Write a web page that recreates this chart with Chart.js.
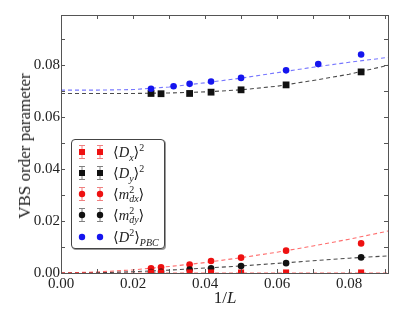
<!DOCTYPE html>
<html>
<head>
<meta charset="utf-8">
<script src="https://cdn.jsdelivr.net/npm/chart.js@4/dist/chart.umd.min.js"></script>
<style>
  body { margin: 0; background: #fff; }
  #wrap { position: relative; width: 409px; height: 315px; }
  .serif { font-family: "Liberation Serif", "DejaVu Serif", serif; color: #222; }
  #ytitle { position: absolute; left: 25px; top: 146px; transform: translate(-50%, -50%) rotate(-90deg); font-size: 17px; white-space: nowrap; }
  #xtitle { position: absolute; left: 225px; top: 298px; transform: translate(-50%, -50%); font-size: 17px; white-space: nowrap; }
  #legend { position: absolute; left: 71px; top: 139px; width: 92px; height: 108px; border: 1px solid #444; border-radius: 4px; background: #fff; box-shadow: 1px 1px 0 #999; }
  .row { position: absolute; left: 0; height: 20px; width: 92px; }
  .row svg { position: absolute; left: 0; top: 0; }
  .row span.t { position: absolute; left: 41px; top: 1px; font-size: 14.5px; white-space: nowrap; line-height: 18px; }
  sub, sup { font-size: 10px; line-height: 0; }
  .ss { display: inline-block; vertical-align: middle; line-height: 9px; font-size: 10px; text-align: left; margin-top: -4px; }
</style>
</head>
<body>
<div id="wrap">
  <canvas id="chart" width="409" height="315"></canvas>
  <div id="ytitle" class="serif">VBS order parameter</div>
  <div id="xtitle" class="serif">1/<i>L</i></div>
  <div id="legend" class="serif"></div>
</div>
<script>
// system sizes (x = 1/L)
let sizes = [40, 36, 28, 24, 20, 16, 12];
let sizesPBC = [40, 32, 28, 24, 20, 16, 14, 12];

// order parameters
let dx2 = [0.0002, 0.0002, 0.0002, 0.0002, 0.0002, 0.0002, 0.0002];
let dy2 = [0.0691, 0.0690, 0.0691, 0.0696, 0.0705, 0.0724, 0.0774];
let mdx2 = [0.0018, 0.0022, 0.0033, 0.0046, 0.0059, 0.0086, 0.0114];
let mdy2 = [0.0004, 0.0005, 0.0013, 0.0018, 0.0027, 0.0038, 0.0060];
let dPBC = [0.0709, 0.0719, 0.0728, 0.0737, 0.0751, 0.0780, 0.0804, 0.0841];

// dashed fit curves
let fitX = [0, 0.01, 0.02, 0.03, 0.04, 0.05, 0.06, 0.07, 0.08, 0.091];
let fitPBC = [0.0704, 0.0704, 0.0706, 0.0716, 0.0732, 0.0750, 0.0771, 0.0792, 0.0811, 0.0830];
let fitDy = [0.0691, 0.0691, 0.0691, 0.0693, 0.0697, 0.0705, 0.0719, 0.0741, 0.0765, 0.0800];
let fitMdx = [0, 0.0004, 0.0012, 0.0025, 0.0040, 0.0059, 0.0080, 0.0104, 0.0130, 0.0162];
let fitMdy = [0, 0.0001, 0.0005, 0.0011, 0.0019, 0.0027, 0.0037, 0.0047, 0.0057, 0.0066];
let fitDx = [0, 0, 0, 0, 0, 0, 0, 0, 0, 0];

let xTicks = ["0.00", "0.02", "0.04", "0.06", "0.08"];
let yTicks = ["0.00", "0.02", "0.04", "0.06", "0.08"];

const RED = "#ee1111";
const BLUE = "#1515ee";

function pts(xs, ys, inv) {
  return xs.map((v, i) => ({ x: inv ? 1 / v : v, y: ys[i] }));
}

function fit(data, color) {
  return {
    type: "line", data: data, borderColor: color, borderWidth: 1.1,
    borderDash: [4, 3], pointRadius: 0, fill: false, order: 2, clip: 0
  };
}
function marks(data, color, style, r) {
  return {
    type: "scatter", data: data, backgroundColor: color, borderColor: color,
    borderWidth: 0, pointStyle: style, pointRadius: r, order: 1, clip: 0
  };
}

function label(list) {
  return (v) => {
    let s = v.toFixed(2);
    return list.includes(s) ? s : "";
  };
}

let frame = {
  id: "frame",
  afterDraw(chart) {
    let ctx = chart.ctx, a = chart.chartArea;
    let xs = chart.scales.x, ys = chart.scales.y;
    ctx.save();
    ctx.strokeStyle = "#555";
    ctx.lineWidth = 1;
    ctx.strokeRect(a.left + 0.5, a.top + 0.5, a.right - a.left, a.bottom - a.top);
    ctx.beginPath();
    for (let i = 1; i <= 9; i++) {
      let px = Math.round(xs.getPixelForValue(i / 100)) + 0.5;
      ctx.moveTo(px, a.bottom); ctx.lineTo(px, a.bottom - 4);
      ctx.moveTo(px, a.top); ctx.lineTo(px, a.top + 4);
      let py = Math.round(ys.getPixelForValue(i / 100)) + 0.5;
      ctx.moveTo(a.left, py); ctx.lineTo(a.left + 4, py);
      ctx.moveTo(a.right, py); ctx.lineTo(a.right - 4, py);
    }
    ctx.stroke();
    ctx.restore();
  }
};

const tickFont = { family: "Liberation Serif", size: 15 };

new Chart(document.getElementById("chart"), {
  type: "scatter",
  data: {
    datasets: [
      fit(pts(fitX, fitPBC), "rgba(60,60,255,0.7)"),
      fit(pts(fitX, fitDy), "rgba(30,30,30,0.8)"),
      fit(pts(fitX, fitMdx), "rgba(255,60,60,0.75)"),
      fit(pts(fitX, fitMdy), "rgba(30,30,30,0.8)"),
      fit(pts(fitX, fitDx), "rgba(255,60,60,0.75)"),
      marks(pts(sizesPBC, dPBC, true), BLUE, "circle", 3.3),
      marks(pts(sizes, dy2, true), "#111", "rect", 4.8),
      marks(pts(sizes, dx2, true), RED, "rect", 4.3),
      marks(pts(sizes, mdy2, true), "#111", "circle", 3.3),
      marks(pts(sizes, mdx2, true), RED, "circle", 3.3),
    ]
  },
  options: {
    responsive: false,
    animation: false,
    layout: { padding: { top: 15, right: 21, left: 0, bottom: 0 } },
    plugins: { legend: { display: false }, tooltip: { enabled: false } },
    scales: {
      x: {
        type: "linear", min: 0, max: 0.0908,
        grid: { display: false, drawTicks: false }, border: { display: false },
        ticks: {
          stepSize: 0.01, includeBounds: false, autoSkip: false, maxRotation: 0,
          padding: 2, color: "#222", font: tickFont, callback: label(xTicks)
        },
        afterFit(s) { s.height = 42; }
      },
      y: {
        type: "linear", min: 0, max: 0.0993,
        grid: { display: false, drawTicks: false }, border: { display: false },
        ticks: {
          stepSize: 0.01, includeBounds: false, autoSkip: false,
          padding: 1, color: "#222", font: tickFont, callback: label(yTicks)
        },
        afterFit(s) { s.width = 61; }
      }
    }
  },
  plugins: [frame]
});

// legend
let legendRows = [
  { color: RED, bar: "#f08080", shape: "rect", text: "⟨<i>D</i><sub><i>x</i></sub>⟩<sup>2</sup>" },
  { color: "#111", bar: "#808080", shape: "rect", text: "⟨<i>D</i><sub><i>y</i></sub>⟩<sup>2</sup>" },
  { color: RED, bar: "#f08080", shape: "circle", text: "⟨<i>m</i><span class='ss'>2<br><i>dx</i></span>⟩" },
  { color: "#111", bar: "#808080", shape: "circle", text: "⟨<i>m</i><span class='ss'>2<br><i>dy</i></span>⟩" },
  { color: BLUE, bar: null, shape: "circle", text: "⟨<i>D</i><sup>2</sup>⟩<sub><i>PBC</i></sub>" },
];
let legend = document.getElementById("legend");
let rowTops = [2, 23, 44, 65, 87];
legendRows.forEach((r, i) => {
  let svg = "<svg width='40' height='20'>";
  [10, 28].forEach((cx) => {
    if (r.bar) {
      svg += `<g stroke='${r.bar}' stroke-width='1'><line x1='${cx}' y1='3' x2='${cx}' y2='17'/>` +
        `<line x1='${cx - 3}' y1='3.5' x2='${cx + 3}' y2='3.5'/><line x1='${cx - 3}' y1='16.5' x2='${cx + 3}' y2='16.5'/></g>`;
    }
    if (r.shape === "rect") svg += `<rect x='${cx - 3}' y='7' width='6' height='6' fill='${r.color}'/>`;
    else svg += `<circle cx='${cx}' cy='10' r='3.2' fill='${r.color}'/>`;
  });
  svg += "</svg>";
  let div = document.createElement("div");
  div.className = "row";
  div.style.top = rowTops[i] + "px";
  div.innerHTML = svg + `<span class='t'>${r.text}</span>`;
  legend.appendChild(div);
});
</script>
</body>
</html>
